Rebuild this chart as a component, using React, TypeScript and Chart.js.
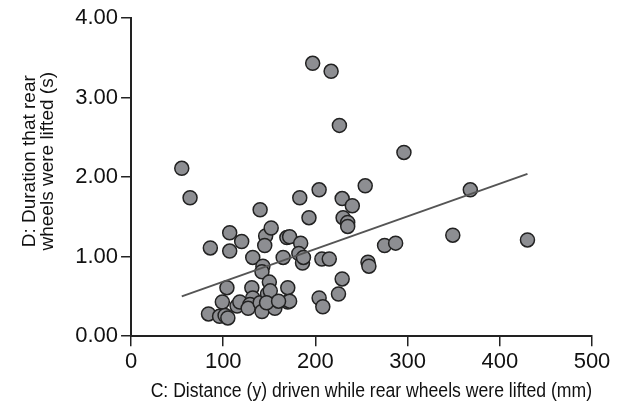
import React, { useEffect, useRef } from "react";
import { Chart, registerables } from "chart.js";

Chart.register(...registerables);

// C: distance driven while rear wheels were lifted (mm)
const distanceMm: number[] = [
  197, 217, 226, 296, 55, 64, 368, 204, 254, 183, 229, 240, 140, 193, 230, 235, 235, 349, 430, 275, 287,
  107, 120, 86, 107, 146, 152, 145, 132, 143, 142, 150, 165, 169, 172, 184, 182, 186, 187, 207, 215, 257, 258,
  104, 84, 99, 96, 102, 105, 115, 118, 131, 132, 129, 127, 140, 142, 148, 151, 156, 170, 170, 172, 229, 225,
  204, 208, 147, 160,
];
// D: duration that rear wheels were lifted (s)
const durationS: number[] = [
  3.43, 3.33, 2.65, 2.31, 2.11, 1.74, 1.84, 1.84, 1.89, 1.74, 1.73, 1.64, 1.59, 1.49, 1.49, 1.43, 1.38, 1.27, 1.21, 1.14, 1.17,
  1.3, 1.19, 1.11, 1.07, 1.26, 1.36, 1.14, 0.99, 0.88, 0.81, 0.68, 0.99, 1.24, 1.25, 1.17, 1.04, 0.92, 0.99, 0.97, 0.97, 0.93, 0.88,
  0.61, 0.28, 0.43, 0.25, 0.26, 0.23, 0.38, 0.43, 0.61, 0.48, 0.4, 0.35, 0.42, 0.31, 0.53, 0.57, 0.35, 0.61, 0.43, 0.44, 0.72, 0.53,
  0.48, 0.37, 0.42, 0.44,
];

// Trend line endpoints
const trendX: number[] = [55, 430];
const trendY: number[] = [0.5, 2.04];

const xTicks: number[] = [0, 100, 200, 300, 400, 500];
const yTicks: number[] = [0, 1, 2, 3, 4];

// leading spaces nudge the centred titles to where they sit in the original
const xTitle = "    C: Distance (y) driven while rear wheels were lifted (mm)";
const yTitle = ["      D: Duration that rear", "      wheels were lifted (s)"];

const FONT = "'Liberation Sans', Arial, Helvetica, sans-serif";

export default function App() {
  const ref = useRef<HTMLCanvasElement | null>(null);

  useEffect(() => {
    document.body.style.margin = "0";
    if (!ref.current) return;
    const points = distanceMm.map((x, i) => ({ x, y: durationS[i] }));
    const trend = trendX.map((x, i) => ({ x, y: trendY[i] }));
    const chart = new Chart(ref.current, {
      type: "scatter",
      data: {
        datasets: [
          {
            type: "line",
            data: trend,
            borderColor: "#555555",
            borderWidth: 2,
            pointRadius: 0,
            fill: false,
            order: 0,
          },
          {
            type: "scatter",
            data: points,
            backgroundColor: "#8d8e92",
            borderColor: "#222222",
            borderWidth: 1.5,
            pointRadius: 7,
            order: 1,
          },
        ],
      },
      options: {
        animation: false,
        responsive: true,
        maintainAspectRatio: false,
        layout: { padding: { left: 12, right: 36, top: 18, bottom: 9 } },
        plugins: { legend: { display: false }, tooltip: { enabled: false } },
        scales: {
          x: {
            type: "linear",
            min: 0,
            max: 500,
            afterBuildTicks: (axis: any) => {
              axis.ticks = xTicks.map((v) => ({ value: v }));
            },
            ticks: {
              color: "#111",
              font: { family: FONT, size: 22 },
              padding: 3,
            },
            grid: { display: true, drawOnChartArea: false, drawTicks: true, tickLength: 10, color: "#222", lineWidth: 1.5 },
            border: { display: true, color: "#222", width: 2 },
            title: {
              display: true,
              text: xTitle,
              color: "#111",
              font: { family: FONT, size: 19.5 },
              padding: { top: 1, bottom: 0 },
            },
          },
          y: {
            type: "linear",
            min: 0,
            max: 4,
            afterBuildTicks: (axis: any) => {
              axis.ticks = yTicks.map((v) => ({ value: v }));
            },
            ticks: {
              color: "#111",
              font: { family: FONT, size: 22 },
              padding: 3,
              callback: (v: any) => Number(v).toFixed(2),
            },
            grid: { display: true, drawOnChartArea: false, drawTicks: true, tickLength: 10, color: "#222", lineWidth: 1.5 },
            border: { display: true, color: "#222", width: 2 },
            title: {
              display: true,
              text: yTitle,
              color: "#111",
              font: { family: FONT, size: 19, lineHeight: 0.98 },
              padding: { top: 8, bottom: 15 },
            },
          },
        },
      },
    } as any);
    return () => chart.destroy();
  }, []);

  return (
    <div style={{ position: "relative", width: 628, height: 412 }}>
      <canvas ref={ref} />
    </div>
  );
}
